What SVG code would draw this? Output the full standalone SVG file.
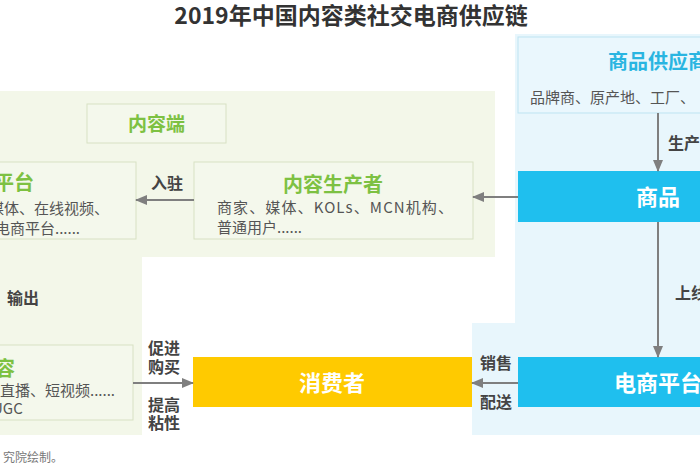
<svg xmlns="http://www.w3.org/2000/svg" width="700" height="470" viewBox="0 0 700 470">
  <style>
    text { font-family: "Noto Sans CJK SC", "Noto Sans", sans-serif; }
    .title { font-size: 23px; font-weight: bold; fill: #333333; }
    .gbox { fill: #f4f8ec; stroke: #d8e1c4; stroke-width: 1; }
    .gtitle { font-size: 20px; font-weight: bold; fill: #7dc142; }
    .body { font-size: 15px; fill: #555555; }
    .lbl { font-size: 16px; font-weight: bold; fill: #444444; }
    .wtxt { font-size: 22px; font-weight: bold; fill: #ffffff; }
    .conn { stroke: #7f7f7f; stroke-width: 2; fill: none; marker-end: url(#ah); }
    .note { font-size: 12px; fill: #777777; }
  </style>
  <defs>
    <marker id="ah" markerUnits="userSpaceOnUse" markerWidth="12" markerHeight="10" refX="11" refY="5" orient="auto">
      <path d="M0,0 L12,5 L0,10 Z" fill="#7f7f7f"/>
    </marker>
  </defs>
  <rect width="700" height="470" fill="#ffffff"/>
  <text class="title" x="351" y="24" text-anchor="middle">2019年中国内容类社交电商供应链</text>

  <g id="backgrounds">
    <path d="M0,91 H495 V257 H142 V435 H0 Z" fill="#f3f7e9"/>
    <path d="M515,34 H700 V435 H472 V323 H515 Z" fill="#e8f6fc"/>
  </g>

  <g id="node-content-side">
    <rect class="gbox" x="87" y="104" width="139" height="39"/>
    <text class="gtitle" x="156.5" y="131" text-anchor="middle" style="font-size:19px">内容端</text>
  </g>

  <g id="node-content-platform">
    <rect class="gbox" x="-1" y="162" width="137" height="77"/>
    <text class="gtitle" x="34" y="190" text-anchor="end">平台</text>
    <text class="body" x="-11" y="213.5">媒体、在线视频、</text>
    <text class="body" x="-5" y="233.5">电商平台......</text>
  </g>

  <g id="node-content-producer">
    <rect class="gbox" x="194" y="162" width="279" height="77"/>
    <text class="gtitle" x="333" y="192" text-anchor="middle">内容生产者</text>
    <text class="body" x="217" y="212.5" textLength="236" lengthAdjust="spacing">商家、媒体、KOLs、MCN机构、</text>
    <text class="body" x="217" y="232.5">普通用户......</text>
  </g>

  <g id="node-content">
    <rect class="gbox" x="-1" y="345" width="134" height="75"/>
    <text class="gtitle" x="15" y="376" text-anchor="end">容</text>
    <text class="body" x="0" y="395.5">直播、短视频......</text>
    <text class="body" x="-8" y="413.5">UGC</text>
  </g>

  <g id="node-supplier">
    <rect x="518" y="37" width="190" height="76" fill="#eaf7fd" stroke="#bde3f1" stroke-width="1"/>
    <text x="658" y="69" text-anchor="middle" style="font-size:20px;font-weight:bold;fill:#29b5e1">商品供应商</text>
    <text class="body" x="530" y="102.5">品牌商、原产地、工厂、</text>
  </g>

  <g id="node-goods">
    <rect x="518" y="171" width="190" height="51" fill="#1fbfee"/>
    <text class="wtxt" x="658" y="205" text-anchor="middle">商品</text>
  </g>

  <g id="node-ecommerce">
    <rect x="518" y="357" width="190" height="50" fill="#1fbfee"/>
    <text class="wtxt" x="658" y="391" text-anchor="middle">电商平台</text>
  </g>

  <g id="node-consumer">
    <rect x="193" y="357" width="279" height="50" fill="#ffca00"/>
    <text class="wtxt" x="332" y="391" text-anchor="middle">消费者</text>
  </g>

  <g id="connectors">
    <line class="conn" x1="518" y1="197" x2="473" y2="197"/>
    <line class="conn" x1="194" y1="200" x2="136" y2="200"/>
    <line class="conn" x1="658" y1="113" x2="658" y2="171"/>
    <line class="conn" x1="658" y1="222" x2="658" y2="357"/>
    <line class="conn" x1="518" y1="383" x2="472" y2="383"/>
    <line class="conn" x1="133" y1="383" x2="193" y2="383"/>
    <text class="lbl" x="167" y="189" text-anchor="middle">入驻</text>
    <text class="lbl" x="668" y="149">生产</text>
    <text class="lbl" x="675" y="299">上线</text>
    <text class="lbl" x="496" y="369" text-anchor="middle">销售</text>
    <text class="lbl" x="496" y="408" text-anchor="middle">配送</text>
    <text class="lbl" x="164" y="354" text-anchor="middle">促进</text>
    <text class="lbl" x="164" y="373" text-anchor="middle">购买</text>
    <text class="lbl" x="164" y="411" text-anchor="middle">提高</text>
    <text class="lbl" x="164" y="429" text-anchor="middle">粘性</text>
    <text class="lbl" x="7" y="304">输出</text>
  </g>

  <text class="note" x="3" y="462">究院绘制。</text>
</svg>
